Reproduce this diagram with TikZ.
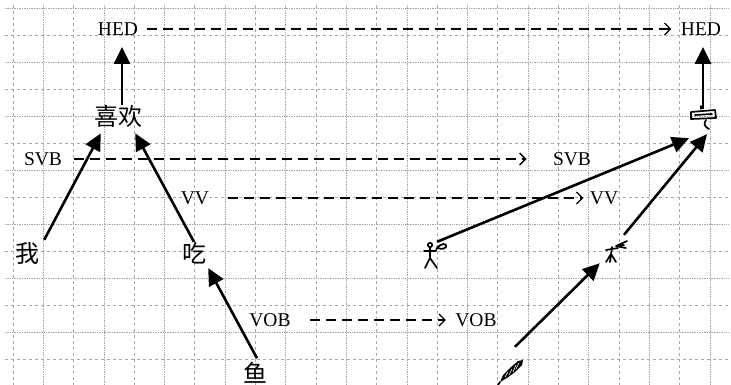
\documentclass[tikz,border=0pt]{standalone}
\usepackage{fontspec}
\setmainfont{Liberation Serif}
\newfontfamily\cjk{Noto Sans CJK SC}
\usetikzlibrary{arrows.meta}
\tikzset{every node/.append style={font=\fontsize{19.5}{22}\selectfont}}
\tikzset{
  dep/.style={line width=2.6pt, -{Triangle[length=17pt,width=16pt]}},
  rel/.style={line width=1.3pt, dash pattern=on 10pt off 6pt, -{Straight Barb[length=6pt,width=12pt]}},
  word/.style={font=\cjk\fontsize{24}{26}\selectfont, inner sep=0pt},
  glyph/.style={inner sep=0pt, minimum width=24pt, minimum height=26pt},
  stroke/.style={line width=1.7pt, line cap=round, line join=round},
  gridline/.style={black!35, line width=0.7pt}
}

\begin{document}
\begin{tikzpicture}[x=1pt, y=-1pt]
    \useasboundingbox (0,0) rectangle (731,385);
    % grid
    \foreach \i in {0,2,...,22} \draw[gridline, dashed] (13+30.3*\i,5) -- (13+30.3*\i,385);
    \foreach \i in {1,3,...,23} \draw[gridline, densely dotted] (13+30.3*\i,5) -- (13+30.3*\i,385);
    \foreach \j in {0,2,...,12} \draw[gridline, densely dotted] (5,8+27*\j) -- (728,8+27*\j);
    \foreach \j in {1,3,...,13} \draw[gridline, dashed] (5,8+27*\j) -- (728,8+27*\j);

    % left tree
    \node (hedL) at (118,29) {HED};
    \node (svbL) at (43,159) {SVB};
    \node (vvL) at (195,198) {VV};
    \node (vobL) at (270,320) {VOB};
    \node[word] (xihuan) at (118,116) {喜欢};
    \node[word] (wo) at (28,254) {我};
    \node[word] (chi) at (194,253) {吃};
    \node[word] (yu) at (255,373) {鱼};

    % right tree
    \node (hedR) at (701,29) {HED};
    \node (svbR) at (572,159) {SVB};
    \node (vvR) at (604,198) {VV};
    \node (vobR) at (476,320) {VOB};
    \node[glyph] (xiD) at (703,119) {};
    \node[glyph] (woD) at (434,255) {};
    \node[glyph] (chiD) at (616,251) {};
    \node[glyph] (yuD) at (511,371) {};

    % glyphs
    \begin{scope}[shift={(woD.center)}, stroke]
        \draw (-4,-10) circle (2.2);
        \draw (-4,-8) -- (-4,3) (-10,-4) -- (2,-4);
        \draw (-4,3) -- (-9,13) (-4,3) -- (3,13);
        \draw (2,-5) .. controls (6,-13) and (14,-12) .. (12,-8) .. controls (10,-5) and (4,-6) .. (3,-8);
    \end{scope}
    \begin{scope}[shift={(chiD.center)}, stroke]
        \draw (-4,-4) -- (-6,11) (-5,3) -- (-10,11) (-5,3) -- (0,11);
        \draw (-10,-1) -- (2,-3);
        \draw (0,-5) -- (11,-10) (0,-5) -- (10,-3) (3,-6) -- (8,-6);
    \end{scope}
    \begin{scope}[shift={(yuD.center)}, stroke]
        \fill (-11,11) -- (-8,4) -- (-1,-3) -- (7,-10) -- (12,-11) -- (11,-6) -- (4,1) -- (-4,7) -- cycle;
        \draw[white, line width=0.6pt] (-6,6) -- (-3,1) (-2,4) -- (1,-2) (2,1) -- (5,-6) (5,-2) -- (8,-8);
        \draw (-11,11) -- (-13,14);
    \end{scope}
    \begin{scope}[shift={(xiD.center)}, stroke]
        \draw (-12,-7) -- (12,-9) -- (13,-1) -- (-12,0) -- cycle;
        \draw (-8,-4) -- (9,-5);
        \draw (-2,-10) -- (-2,-13);
        \draw (3,1) .. controls (0,5) and (2,8) .. (6,10);
    \end{scope}

    % dependency arcs
    \draw[dep] ([xshift=4]xihuan.north) -- ([shift={(4,8)}]hedL.south);
    \draw[dep] ([shift={(4,-3)}]wo.north east) -- ([shift={(7,6)}]xihuan.south west);
    \draw[dep] (chi.north) -- ([shift={(-7,6)}]xihuan.south east);
    \draw[dep] ([shift={(2,-4)}]yu.north) -- ([shift={(2,4)}]chi.south east);

    \draw[dep] ([yshift=-3]xiD.north) -- ([shift={(2,8)}]hedR.south);
    \draw[dep] ([xshift=3]woD.north) -- ([shift={(-14,6)}]xiD.south);
    \draw[dep] ([shift={(8,-3)}]chiD.north) -- ([shift={(4,2)}]xiD.south);
    \draw[dep] ([shift={(4,-11)}]yuD.north) -- ([shift={(-4,-1)}]chiD.south west);

    % mapping of relations
    \draw[rel] ([xshift=5]hedL.east) -- ([xshift=-6]hedR.west);
    \draw[rel] ([xshift=8]svbL.east) -- ([xshift=-23]svbR.west);
    \draw[rel] ([xshift=15]vvL.east) -- ([xshift=-3]vvR.west);
    \draw[rel] ([xshift=16]vobL.east) -- ([xshift=-6]vobR.west);
\end{tikzpicture}
\end{document}
